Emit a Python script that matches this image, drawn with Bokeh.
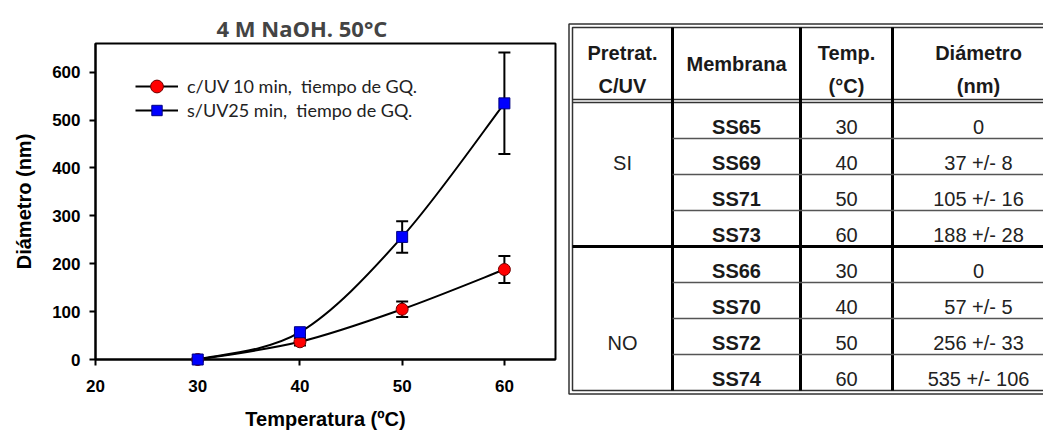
import numpy as np
from bokeh.plotting import figure
from bokeh.models import (Range1d, FixedTicker, Legend, LegendItem, Whisker, TeeHead,
                          ColumnDataSource, Spacer)
from bokeh.layouts import row, column
from bokeh.embed import file_html
from bokeh.resources import INLINE
from bokeh.core.properties import value

# ---------------- data ----------------
temps = [30, 40, 50, 60]
uv_diam = [0, 37, 105, 188]       # c/UV 10 min (SI)
uv_err = [0, 8, 16, 28]
nouv_diam = [0, 57, 256, 535]     # s/UV 25 min (NO)
nouv_err = [0, 5, 33, 106]

x_ticks = [20, 30, 40, 50, 60]
y_ticks = [0, 100, 200, 300, 400, 500, 600]

series_labels = ["c/UV 10 min,  tiempo de GQ.", "s/UV25 min,  tiempo de GQ."]

header_line1 = ["Pretrat.", "Membrana", "Temp.", "Diámetro"]
header_line2 = ["C/UV", "", "(°C)", "(nm)"]
groups = ["SI", "NO"]
group_label_row = [1, 6]
membranes = ["SS65", "SS69", "SS71", "SS73", "SS66", "SS70", "SS72", "SS74"]

AX_FONT = "Liberation Sans"


def smooth_segments(xs, ys):
    """Catmull-Rom style cubic Bezier segments through the data points."""
    x = np.asarray(xs, float)
    y = np.asarray(ys, float)
    xp = np.concatenate([[x[0]], x, [x[-1]]])
    yp = np.concatenate([[y[0]], y, [y[-1]]])
    n = len(x) - 1
    d = dict(x0=[], y0=[], x1=[], y1=[], cx0=[], cy0=[], cx1=[], cy1=[])
    for i in range(n):
        j = i + 1
        d["x0"].append(xp[j]); d["y0"].append(yp[j])
        d["x1"].append(xp[j + 1]); d["y1"].append(yp[j + 1])
        d["cx0"].append(xp[j] + (xp[j + 1] - xp[j - 1]) / 6)
        d["cy0"].append(yp[j] + (yp[j + 1] - yp[j - 1]) / 6)
        d["cx1"].append(xp[j + 1] - (xp[j + 2] - xp[j]) / 6)
        d["cy1"].append(yp[j + 1] - (yp[j + 2] - yp[j]) / 6)
    return ColumnDataSource(d)


# ---------------- chart ----------------
p = figure(width=560, height=432, output_backend="svg", toolbar_location=None,
           x_range=Range1d(20, 65), y_range=Range1d(0, 660),
           min_border_left=95, min_border_right=5, min_border_top=43, min_border_bottom=70)
p.grid.visible = False
p.outline_line_color = "black"
p.outline_line_width = 2
p.background_fill_color = "white"
p.border_fill_color = "white"

p.title.text = "4 M NaOH. 50°C"
p.title.text_font = "Open Sans"
p.title.text_font_style = "bold"
p.title.text_font_size = "22px"
p.title.align = "left"
p.title.offset = 121
p.title.standoff = 2

p.xaxis.ticker = FixedTicker(ticks=x_ticks)
p.yaxis.ticker = FixedTicker(ticks=y_ticks)
for ax in (p.xaxis, p.yaxis):
    ax.axis_line_width = 2
    ax.major_tick_line_width = 2
    ax.major_tick_out = 6
    ax.major_tick_in = 0
    ax.minor_tick_line_color = None
    ax.major_label_text_font = AX_FONT
    ax.major_label_text_font_style = "bold"
    ax.major_label_text_font_size = "17px"
    ax.major_label_text_color = "black"
    ax.axis_label_text_font = AX_FONT
    ax.axis_label_text_font_style = "bold"
    ax.axis_label_text_font_size = "20px"
    ax.axis_label_text_color = "black"
p.xaxis.axis_label = "Temperatura (ºC)"
p.yaxis.axis_label = "Diámetro (nm)"
p.xaxis.major_label_standoff = 14
p.yaxis.major_label_standoff = 9
p.xaxis.axis_label_standoff = 13
p.yaxis.axis_label_standoff = 14

renderers = []
for ys, errs, marker, fill, edge, size in [
        (uv_diam, uv_err, "circle", "#ff0000", "#700000", 12),
        (nouv_diam, nouv_err, "square", "#0000ff", "#000080", 11)]:
    curve = p.bezier(x0="x0", y0="y0", x1="x1", y1="y1", cx0="cx0", cy0="cy0",
                     cx1="cx1", cy1="cy1", source=smooth_segments(temps, ys),
                     line_color="black", line_width=2)
    keep = [i for i, e in enumerate(errs) if e > 0]
    wsrc = ColumnDataSource(dict(x=[temps[i] for i in keep],
                                 upper=[ys[i] + errs[i] for i in keep],
                                 lower=[ys[i] - errs[i] for i in keep]))
    w = Whisker(source=wsrc, base="x", upper="upper", lower="lower",
                line_color="black", line_width=2,
                upper_head=TeeHead(size=12, line_width=2, line_color="black"),
                lower_head=TeeHead(size=12, line_width=2, line_color="black"))
    p.add_layout(w)
    pts = p.scatter(temps, ys, marker=marker, size=size, fill_color=fill,
                    line_color=edge, line_width=1, level="overlay")
    renderers.append((curve, pts))

# one legend per row so each marker can be sized like the original
for k, (loc_y, gh) in enumerate([(257, 32), (236, 26)]):
    lg = Legend(items=[LegendItem(label=series_labels[k], renderers=list(renderers[k]))],
                location=(40, loc_y), padding=0, margin=0, border_line_color=None,
                background_fill_alpha=0, glyph_width=43, glyph_height=gh,
                label_height=gh, spacing=0, label_standoff=9,
                label_text_font="Lato", label_text_font_size="18px",
                label_text_color="#222222")
    p.add_layout(lg)

# ---------------- table ----------------
TOP_OFF = 1
t = figure(width=483, height=430, output_backend="svg", toolbar_location=None,
           x_range=Range1d(560, 1043), y_range=Range1d(430 + TOP_OFF, TOP_OFF),
           x_axis_type=None, y_axis_type=None, min_border=0)
t.grid.visible = False
t.outline_line_color = None
t.background_fill_color = "white"
t.border_fill_color = "white"

col_edges = [572, 672, 800, 892, 1064]
outer_pad = 3.5
top_inner, header_bottom, row_top0, row_h = 27, 100.5, 102, 36
n_rows = len(membranes)
bottom_inner = row_top0 + n_rows * row_h
col_centers = [(col_edges[i] + col_edges[i + 1]) / 2 for i in range(4)]

# outer double border
for pad in (0, outer_pad):
    t.quad(left=col_edges[0] - pad, right=col_edges[-1] + pad,
           top=top_inner - pad, bottom=bottom_inner + pad,
           fill_color=None, line_color="#333333", line_width=1.5)
# header double line
for dy in (-1.5, 1.5):
    t.segment(x0=col_edges[0], x1=col_edges[-1], y0=header_bottom + dy, y1=header_bottom + dy,
              line_color="#333333", line_width=1.5)
# column separators (thick)
t.segment(x0=col_edges[1:4], x1=col_edges[1:4], y0=[top_inner] * 3, y1=[bottom_inner] * 3,
          line_color="black", line_width=3)
# row separators
group_size = n_rows // len(groups)
thin_y, thick_y = [], []
for i in range(1, n_rows):
    yb = row_top0 + i * row_h
    (thick_y if i % group_size == 0 else thin_y).append(yb)
t.segment(x0=[col_edges[1]] * len(thin_y), x1=[col_edges[-1]] * len(thin_y),
          y0=thin_y, y1=thin_y, line_color="#555555", line_width=1.5)
t.segment(x0=[col_edges[0]] * len(thick_y), x1=[col_edges[-1]] * len(thick_y),
          y0=thick_y, y1=thick_y, line_color="black", line_width=3)

TF = value(AX_FONT)
# header texts
hx, hy, ht = [], [], []
for c in range(4):
    if header_line2[c]:
        hx += [col_centers[c], col_centers[c]]
        hy += [52, 85]
        ht += [header_line1[c], header_line2[c]]
    else:
        hx.append(col_centers[c]); hy.append(63); ht.append(header_line1[c])
t.text(x=hx, y=hy, text=ht, text_font=TF, text_font_style="bold", text_font_size="20px",
       text_align="center", text_baseline="alphabetic", text_color="#1a1a1a")

# body
all_temps = temps * len(groups)
all_diam = uv_diam + nouv_diam
all_err = uv_err + nouv_err
diam_txt = [f"{d} +/- {e}" if e else f"{d}" for d, e in zip(all_diam, all_err)]
baselines = [row_top0 + (i + 1) * row_h - 12 for i in range(n_rows)]
t.text(x=[col_centers[1]] * n_rows, y=baselines, text=membranes, text_font=TF,
       text_font_style="bold", text_font_size="20px", text_align="center",
       text_baseline="alphabetic", text_color="#1a1a1a")
t.text(x=[col_centers[2]] * n_rows, y=baselines, text=[str(v) for v in all_temps],
       text_font=TF, text_font_size="20px", text_align="center",
       text_baseline="alphabetic", text_color="#222222")
t.text(x=[col_centers[3]] * n_rows, y=baselines, text=diam_txt,
       text_font=TF, text_font_size="20px", text_align="center",
       text_baseline="alphabetic", text_color="#222222")
t.text(x=[col_centers[0]] * len(groups), y=[baselines[r] for r in group_label_row],
       text=groups, text_font=TF, text_font_size="20px", text_align="center",
       text_baseline="alphabetic", text_color="#222222")

layout = row(p, column(Spacer(height=TOP_OFF), t))
open("out.html", "w").write(file_html(layout, INLINE))
